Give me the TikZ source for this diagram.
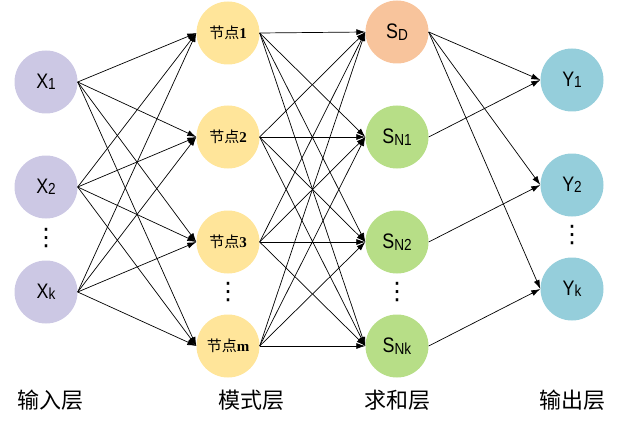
\documentclass[tikz,border=0pt]{standalone}
\usepackage{fontspec}
\newfontfamily\cjk{Noto Sans CJK SC}
\newfontfamily\narrowsf[FakeStretch=0.85]{Liberation Sans}
\newfontfamily\digitf{Liberation Serif}
\newfontfamily\symf{DejaVu Sans}
\usetikzlibrary{arrows.meta}
\newcommand{\lbl}[2]{#1{\fontsize{16}{16}\selectfont\raisebox{-1.5pt}{#2}}}
\definecolor{inputc}{RGB}{204,200,228}
\definecolor{modec}{RGB}{255,229,154}
\definecolor{sumdc}{RGB}{248,196,156}
\definecolor{sumnc}{RGB}{183,222,135}
\definecolor{outc}{RGB}{149,206,219}

\begin{document}
\begin{tikzpicture}
                [x=1pt, y=-1pt,
                    neuron/.style={circle, minimum size=63pt, inner sep=0pt,
                        font=\narrowsf\fontsize{21}{21}\selectfont},
                    pattern/.style={neuron, fill=modec, font=\fontsize{15}{15}\selectfont},
                    conn/.style={-{Latex[length=9pt,width=6pt]}, line width=0.7pt},
                    vdot/.style={inner sep=0pt, font=\symf\fontsize{24}{24}\selectfont},
                    layer/.style={font=\cjk\fontsize{22}{22}\selectfont},
                ]
                \useasboundingbox (0,0) rectangle (618,425);
                % input layer
                \node[neuron, fill=inputc] (x1) at (46,82) {\lbl{X}{1}};
                \node[neuron, fill=inputc] (x2) at (46,187) {\lbl{X}{2}};
                \node[vdot] (xdots) at (46,238) {⋮};
                \node[neuron, fill=inputc] (xk) at (46,292) {\lbl{X}{k}};
                % pattern layer
                \node[pattern] (p1) at (228,33) {{\cjk 节点}{\digitf\bfseries 1}};
                \node[pattern] (p2) at (228,137) {{\cjk 节点}{\digitf\bfseries 2}};
                \node[pattern] (p3) at (228,242) {{\cjk 节点}{\digitf\bfseries 3}};
                \node[vdot] (pdots) at (228,292) {⋮};
                \node[pattern] (pm) at (228,346) {{\cjk 节点}{\digitf\bfseries m}};
                % summation layer
                \node[neuron, fill=sumdc] (sd) at (397,32) {\lbl{S}{D}};
                \node[neuron, fill=sumnc] (s1) at (397,137) {\lbl{S}{N1}};
                \node[neuron, fill=sumnc] (s2) at (397,242) {\lbl{S}{N2}};
                \node[vdot] (sdots) at (397,292) {⋮};
                \node[neuron, fill=sumnc] (sk) at (397,346) {\lbl{S}{Nk}};
                % output layer
                \node[neuron, fill=outc] (y1) at (572,80) {\lbl{Y}{1}};
                \node[neuron, fill=outc] (y2) at (572,185) {\lbl{Y}{2}};
                \node[vdot] (ydots) at (572,235) {⋮};
                \node[neuron, fill=outc] (yk) at (572,289) {\lbl{Y}{k}};
                % connections
                \foreach \a in {x1,x2,xk}
                    \foreach \b in {p1,p2,p3,pm}
                        \draw[conn] (\a.east) -- (\b.west);
                \foreach \a in {p1,p2,p3,pm}
                    \foreach \b in {sd,s1,s2,sk}
                        \draw[conn] (\a.east) -- (\b.west);
                \foreach \b in {y1,y2,yk}
                    \draw[conn] (sd.east) -- (\b.west);
                \draw[conn] (s1.east) -- (y1.west);
                \draw[conn] (s2.east) -- (y2.west);
                \draw[conn] (sk.east) -- (yk.west);
                % layer names
                \node[layer] (lin) at (50,400) {输入层};
                \node[layer] (lpat) at (251,400) {模式层};
                \node[layer] (lsum) at (397,400) {求和层};
                \node[layer] (lout) at (572,400) {输出层};
            \end{tikzpicture}
\end{document}
